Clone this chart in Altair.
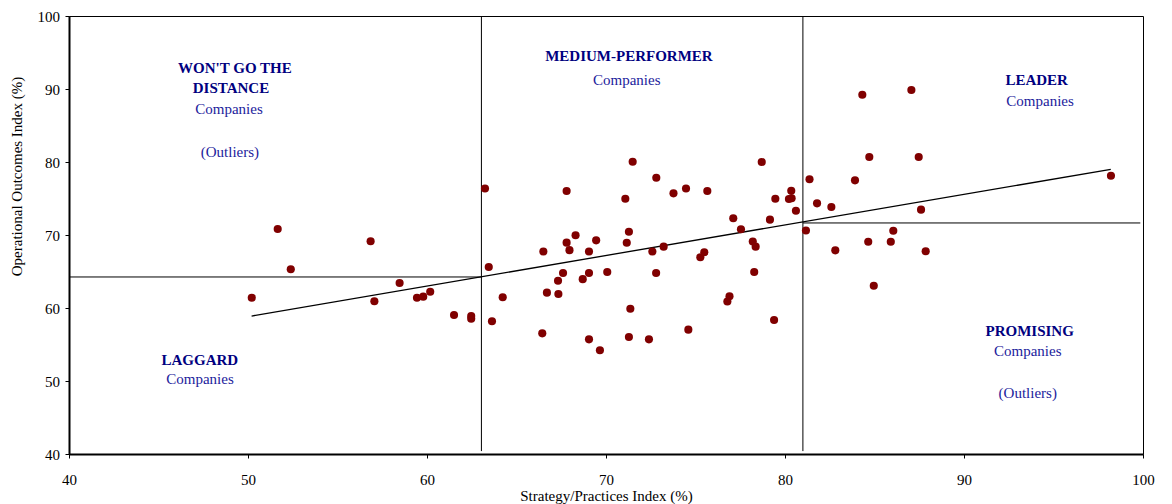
import altair as alt
import pandas as pd

# Company scores: strategy/practices index (x) and operational outcomes index (y), in %
strategy = [
    50.21, 51.66, 52.39, 56.85, 57.06, 58.47, 59.44, 59.79, 60.18, 61.51,
    62.47, 62.47, 63.24, 63.45, 63.63, 64.23, 66.50, 66.44, 66.70, 67.32,
    67.34, 67.60, 67.80, 67.96, 68.30, 67.80, 68.70, 69.05, 69.05, 69.05,
    69.45, 69.66, 70.07, 71.08, 71.28, 71.16, 71.36, 71.28, 71.49, 72.40,
    72.59, 72.80, 72.81, 73.22, 73.77, 74.47, 74.60, 75.27, 75.49, 75.66,
    76.78, 76.90, 77.11, 77.54, 78.20, 78.36, 78.28, 78.70, 79.16, 79.39,
    79.46, 80.22, 80.37, 80.35, 80.61, 81.17, 81.37, 81.79, 82.59, 82.81,
    83.91, 84.32, 84.65, 84.71, 84.96, 85.91, 86.05, 87.06, 87.47, 87.60,
    87.86, 98.21,
]
outcomes = [
    61.41, 70.82, 65.30, 69.14, 60.92, 63.42, 61.41, 61.55, 62.23, 59.04,
    58.90, 58.53, 76.37, 65.62, 58.19, 61.47, 67.74, 56.53, 62.10, 63.74,
    61.92, 64.79, 68.95, 67.92, 69.96, 76.03, 63.95, 64.79, 67.74, 55.71,
    69.27, 54.22, 64.93, 74.97, 70.45, 68.93, 59.89, 56.03, 80.04, 55.71,
    67.74, 64.79, 77.85, 68.40, 75.71, 76.37, 57.03, 66.95, 67.63, 76.03,
    60.89, 61.60, 72.29, 70.78, 69.11, 68.40, 64.93, 80.00, 72.10, 58.36,
    74.97, 74.93, 75.03, 76.05, 73.32, 70.62, 77.64, 74.34, 73.84, 67.90,
    77.49, 89.22, 69.08, 80.68, 63.05, 69.08, 70.59, 89.86, 80.68, 73.47,
    67.77, 78.12,
]

# Fitted trend line end points
trend_x = [50.2, 98.2]
trend_y = [58.9, 79.0]

# Quadrant dividers: two verticals and the two horizontal cut-offs
div_x1 = [63.04, 81.0, 40.0, 81.0]
div_x2 = [63.04, 81.0, 63.04, 99.85]
div_y1 = [40.4, 40.4, 64.25, 71.65]
div_y2 = [100.0, 100.0, 64.25, 71.65]

# Quadrant captions
head_text = ["WON'T GO THE", "DISTANCE", "MEDIUM-PERFORMER", "LEADER", "PROMISING", "LAGGARD"]
head_x = [49.27, 49.05, 71.28, 94.06, 93.67, 47.31]
head_y = [92.92, 90.14, 94.56, 91.23, 56.89, 52.88]

sub_text = ["Companies", "(Outliers)", "Companies", "Companies", "Companies", "(Outliers)", "Companies"]
sub_x = [48.94, 48.99, 71.16, 94.25, 93.56, 93.56, 47.32]
sub_y = [87.26, 81.41, 91.23, 88.36, 54.11, 48.32, 50.23]

ticks = [40, 50, 60, 70, 80, 90, 100]
FONT = "Liberation Serif"

x_scale = alt.Scale(domain=[40, 100], nice=False, zero=False)
y_scale = alt.Scale(domain=[40, 100], nice=False, zero=False)

x_axis = alt.Axis(
    title="Strategy/Practices Index (%)", values=ticks, grid=False, labelFlush=False,
    domainColor="black", domainWidth=2, tickColor="black", tickSize=4,
    labelFontSize=15, labelColor="black", labelBaseline="middle", labelPadding=21,
    titleFontSize=15, titleFontWeight="normal", titleColor="black",
    titleY=46, titleBaseline="alphabetic",
)
y_axis = alt.Axis(
    title="Operational Outcomes Index (%)", values=ticks, grid=False, labelFlush=False,
    domainColor="black", domainWidth=2, tickColor="black", tickSize=4,
    labelFontSize=15, labelColor="black", labelPadding=5.5,
    titleFontSize=15, titleFontWeight="normal", titleColor="black",
    titleAngle=-90, titleX=-48, titleY=160, titleAnchor="middle",
    titleBaseline="alphabetic",
)

pts = pd.DataFrame({"strategy": strategy, "outcomes": outcomes})
trend = pd.DataFrame({"strategy": trend_x, "outcomes": trend_y})
dividers = pd.DataFrame({"x1": div_x1, "x2": div_x2, "y1": div_y1, "y2": div_y2})
heads = pd.DataFrame({"label": head_text, "x": head_x, "y": head_y})
subs = pd.DataFrame({"label": sub_text, "x": sub_x, "y": sub_y})

divider_layer = alt.Chart(dividers).mark_rule(color="black", strokeWidth=1).encode(
    x=alt.X("x1:Q", scale=x_scale, axis=x_axis),
    x2="x2:Q",
    y=alt.Y("y1:Q", scale=y_scale, axis=y_axis),
    y2="y2:Q",
)

trend_layer = alt.Chart(trend).mark_line(color="black", strokeWidth=1.3).encode(
    x=alt.X("strategy:Q", scale=x_scale, axis=x_axis),
    y=alt.Y("outcomes:Q", scale=y_scale, axis=y_axis),
)

point_layer = alt.Chart(pts).mark_circle(size=66, color="#800000", opacity=1).encode(
    x=alt.X("strategy:Q", scale=x_scale, axis=x_axis),
    y=alt.Y("outcomes:Q", scale=y_scale, axis=y_axis),
)

head_layer = alt.Chart(heads).mark_text(
    font=FONT, fontSize=15, fontWeight="bold", color="#000080", baseline="middle", align="center"
).encode(
    x=alt.X("x:Q", scale=x_scale, axis=x_axis),
    y=alt.Y("y:Q", scale=y_scale, axis=y_axis),
    text="label:N",
)

sub_layer = alt.Chart(subs).mark_text(
    font=FONT, fontSize=15, color="#1c1c9c", baseline="middle", align="center"
).encode(
    x=alt.X("x:Q", scale=x_scale, axis=x_axis),
    y=alt.Y("y:Q", scale=y_scale, axis=y_axis),
    text="label:N",
)

chart = (
    alt.layer(divider_layer, trend_layer, point_layer, head_layer, sub_layer)
    .properties(
        width=1074,
        height=438,
        autosize=alt.AutoSizeParams(type="none"),
        padding={"left": 69, "top": 16, "right": 29, "bottom": 50},
        background="white",
    )
    .configure_view(stroke="black", strokeWidth=1)
    .configure_axis(labelFont=FONT, titleFont=FONT)
)

chart.save("out.html", embed_options={"renderer": "svg", "actions": False})
